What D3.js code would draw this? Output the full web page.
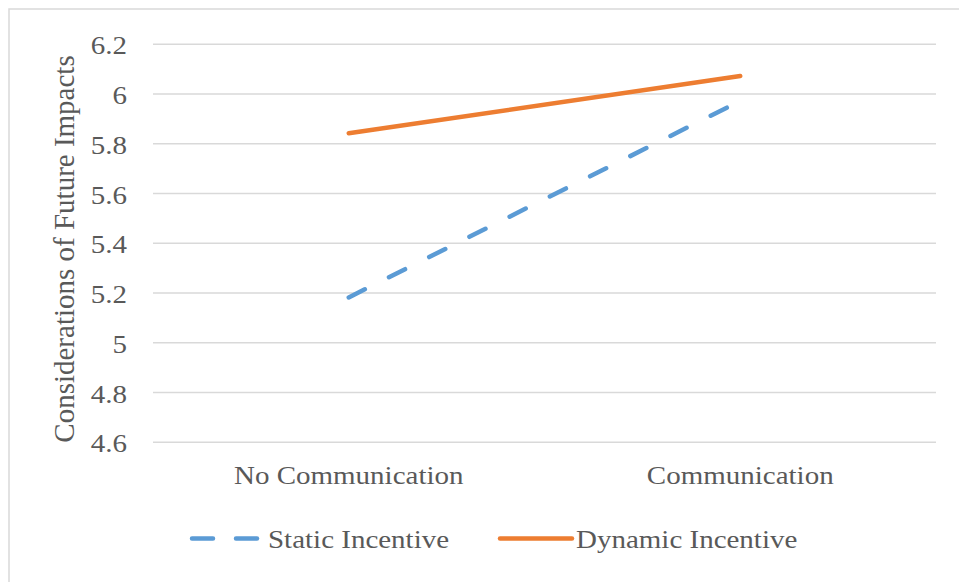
<!DOCTYPE html>
<html><head><meta charset="utf-8">
<script src="https://cdn.jsdelivr.net/npm/d3@7"></script>
<style>body{margin:0;background:#fff;overflow:hidden}</style>
</head><body><svg id="c" width="959" height="582"></svg>
<script>
const categories = ["No Communication", "Communication"];
const staticIncentive = [5.18, 5.97];
const dynamicIncentive = [5.84, 6.07];
const yTicks = [4.6, 4.8, 5.0, 5.2, 5.4, 5.6, 5.8, 6.0, 6.2];
const seriesNames = ["Static Incentive", "Dynamic Incentive"];
const yTitle = "Considerations of Future Impacts";

const colors = ["#5B9BD5", "#ED7D31"];
const textColor = "#595959";
const font = "'Liberation Serif','Times New Roman',serif";
const fs = 29, squash = 0.86;

const svg = d3.select("#c");
const L = 153, R = 936, T = 43.7, B = 441.7;

svg.append("rect").attr("x", 9).attr("y", 9).attr("width", 1000).attr("height", 600)
  .attr("fill", "none").attr("stroke", "#d9d9d9").attr("stroke-width", 1.5);

const x = d3.scaleBand().domain(categories).range([L, R]);
const y = d3.scaleLinear().domain([4.6, 6.2]).range([B, T]);
const cx = c => x(c) + x.bandwidth() / 2;

// y axis with gridlines
const ya = svg.append("g").attr("transform", `translate(${L},0)`)
  .call(d3.axisLeft(y).tickValues(yTicks).tickSize(-(R - L)).tickPadding(26)
    .tickFormat(d => String(Math.round(d * 10) / 10)));
ya.select(".domain").remove();
ya.selectAll(".tick line").attr("stroke", "#d9d9d9").attr("stroke-width", 1.5);
ya.selectAll(".tick text").attr("fill", textColor).attr("font-family", font)
  .attr("font-size", fs).attr("dy", "0.41em").attr("transform", `scale(1,${squash})`);

// x axis labels
const xa = svg.append("g").attr("transform", `translate(0,${B})`)
  .call(d3.axisBottom(x).tickSize(0));
xa.select(".domain").remove();
xa.selectAll(".tick line").remove();
xa.selectAll(".tick text").attr("fill", textColor).attr("font-family", font)
  .attr("font-size", fs).attr("y", 0).attr("dy", 49.5).attr("transform", `scale(1,${squash})`);

// y title
svg.append("text").attr("transform", "translate(74,249) rotate(-90)")
  .attr("text-anchor", "middle").attr("fill", textColor).attr("font-family", font)
  .attr("font-size", fs).text(yTitle);

// lines
const line = d3.line().x(d => cx(d.c)).y(d => y(d.v));
const series = [staticIncentive, dynamicIncentive];
series.forEach((vals, i) => {
  svg.append("path")
    .datum(categories.map((c, j) => ({ c, v: vals[j] })))
    .attr("d", line).attr("fill", "none").attr("stroke", colors[i])
    .attr("stroke-width", 4.5).attr("stroke-linecap", "round")
    .attr("stroke-dasharray", i === 0 ? "18 27" : null);
});

// legend
const legendPos = [{ x1: 192, x2: 258, tx: 268 }, { x1: 500, x2: 572, tx: 576 }];
seriesNames.forEach((name, i) => {
  const p = legendPos[i];
  svg.append("line").attr("x1", p.x1).attr("x2", p.x2).attr("y1", 538.5).attr("y2", 538.5)
    .attr("stroke", colors[i]).attr("stroke-width", 4.5).attr("stroke-linecap", "round")
    .attr("stroke-dasharray", i === 0 ? "21 23" : null);
  svg.append("g").attr("transform", `translate(${p.tx},548) scale(1,${squash})`)
    .append("text").attr("fill", textColor).attr("font-family", font).attr("font-size", fs)
    .text(name);
});
</script></body></html>
